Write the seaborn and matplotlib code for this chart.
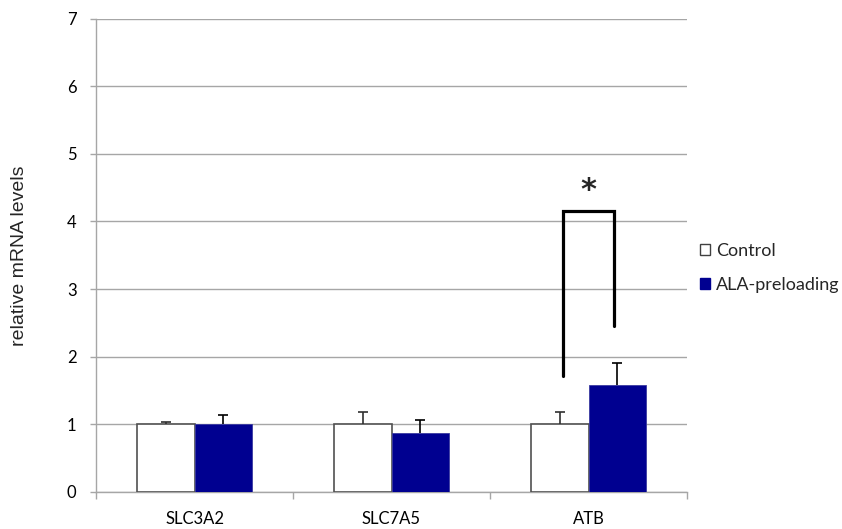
import matplotlib
matplotlib.use("Agg")
import matplotlib.pyplot as plt
from matplotlib.patches import Patch
import seaborn as sns
import pandas as pd
import numpy as np

# Expression data (mean and upper SD) per transporter gene
genes = ["SLC3A2", "SLC7A5", "ATB"]
groups = ["Control", "ALA-preloading"]
control_mean = [1.00, 1.00, 1.00]
control_sd = [0.04, 0.18, 0.18]
ala_mean = [1.00, 0.87, 1.58]
ala_sd = [0.14, 0.20, 0.33]
y_ticks = [0, 1, 2, 3, 4, 5, 6, 7]

# Significance bracket for ATB
bracket_top = 4.16
bracket_left_bottom = 1.72
bracket_right_bottom = 2.46
star_y = 4.45

sns.set_theme(style="white")
plt.rcParams["font.family"] = ["Lato", "DejaVu Sans"]

df = pd.DataFrame({
    "gene": genes * 2,
    "group": [groups[0]] * 3 + [groups[1]] * 3,
    "value": control_mean + ala_mean,
})

fig = plt.figure(figsize=(8.42, 5.29), dpi=100)
ax = fig.add_axes([96 / 842, 37 / 529, 591 / 842, 473.5 / 529])

palette = {"Control": "white", "ALA-preloading": "#000090"}
sns.barplot(data=df, x="gene", y="value", hue="group", order=genes,
            hue_order=groups, palette=palette, width=0.58, errorbar=None,
            saturation=1, ax=ax, legend=False, zorder=3)

# bar outlines
for patch in ax.patches:
    fc = patch.get_facecolor()
    if fc[0] > 0.9:
        patch.set_edgecolor("#505050")
        patch.set_linewidth(1.2)
    else:
        patch.set_edgecolor("#3a3aa0")
        patch.set_linewidth(0.6)

# upward-only error bars (stem plus cap)
bw = 0.29
cap = 0.025
xs = np.arange(len(genes))
for offs, mean, sd, col in [(-bw / 2, control_mean, control_sd, "#303030"),
                            (bw / 2, ala_mean, ala_sd, "black")]:
    xpos = xs + offs
    tops = np.array(mean) + np.array(sd)
    ax.vlines(xpos, mean, tops, colors=col, lw=1.2, zorder=4)
    ax.hlines(tops, xpos - cap, xpos + cap, colors=col, lw=1.2, zorder=4)

# significance bracket
xl, xr = 2 - 0.13, 2 + 0.13
ax.plot([xl, xl, xr, xr],
        [bracket_left_bottom, bracket_top, bracket_top, bracket_right_bottom],
        color="black", lw=2.3, solid_joinstyle="miter", zorder=5)
ax.text(2.0, star_y, "*", ha="center", va="center", fontsize=22,
        fontweight="bold", family=["DejaVu Sans"])

ax.set_xlim(-0.5, 2.5)
ax.set_ylim(0, 7)
ax.set_yticks(y_ticks)
ax.set_xticks(xs)
ax.set_xticklabels(genes)
ax.set_xticks([-0.5, 0.5, 1.5, 2.5], minor=True)

ax.yaxis.grid(True, color="#a6a6a6", lw=1.0, zorder=0)
ax.set_axisbelow(True)
for s in ["top", "right"]:
    ax.spines[s].set_visible(False)
for s in ["left", "bottom"]:
    ax.spines[s].set_color("#a6a6a6")
    ax.spines[s].set_linewidth(1.0)

ax.tick_params(axis="y", which="major", left=True, length=4, width=1,
               color="#a6a6a6", pad=10, labelsize=12, labelcolor="black")
ax.tick_params(axis="x", which="major", bottom=False, length=0, pad=14,
               labelsize=12, labelcolor="black")
ax.tick_params(axis="x", which="minor", bottom=True, length=5, width=1,
               color="#a6a6a6")

ax.set_xlabel("")
ax.set_ylabel("relative mRNA levels", fontsize=14, family=["Liberation Sans"],
              labelpad=28)

handles = [Patch(facecolor="white", edgecolor="#404040", lw=1.0, label="Control"),
           Patch(facecolor="#000090", edgecolor="#000090", label="ALA-preloading")]
ax.legend(handles=handles, loc="center left", bbox_to_anchor=(1.0, 0.473),
          frameon=False, fontsize=13, handlelength=0.6, handleheight=0.6,
          handletextpad=0.3, labelspacing=1.0, borderaxespad=0.3)

fig.savefig("out.png", dpi=100)
